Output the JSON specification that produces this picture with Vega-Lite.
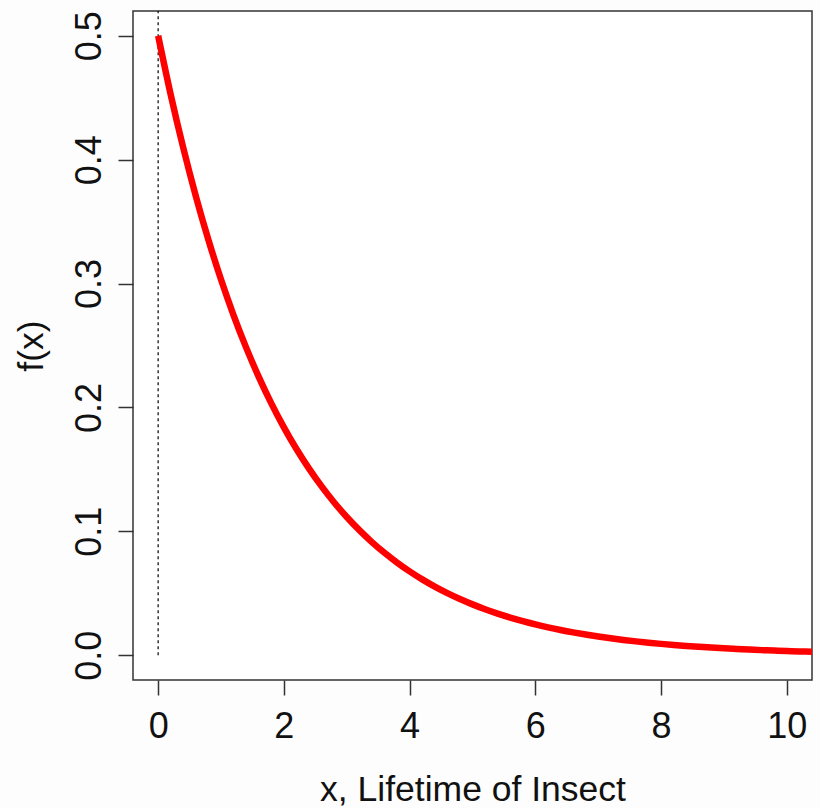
{
  "$schema": "https://vega.github.io/schema/vega-lite/v6.json",
  "autosize": "none",
  "width": 679,
  "height": 669,
  "padding": {"left": 133, "top": 11, "right": 8, "bottom": 128},
  "background": "#fdfdfd",
  "config": {
    "view": {"stroke": "#333333", "strokeWidth": 1.5, "fill": "white"},
    "axis": {
      "domain": false,
      "grid": false,
      "tickColor": "#333333",
      "tickSize": 15,
      "tickWidth": 1.5,
      "labelFont": "Liberation Sans",
      "labelFontSize": 36,
      "labelColor": "#111111",
      "titleFont": "Liberation Sans",
      "titleFontSize": 35.5,
      "titleFontWeight": "normal",
      "titleColor": "#111111"
    }
  },
  "layer": [
    {
      "data": {"values": [{"x": 0, "y": 0, "y2": 0.52}]},
      "mark": {"type": "rule", "color": "black", "strokeWidth": 1.2, "strokeDash": [3, 3]},
      "encoding": {
        "x": {"field": "x", "type": "quantitative"},
        "y": {"field": "y", "type": "quantitative"},
        "y2": {"field": "y2"}
      }
    },
    {
      "data": {"values": [
        {"x": 0, "y": 0.5}, {"x": 0.2, "y": 0.452419}, {"x": 0.4, "y": 0.409365}, {"x": 0.6, "y": 0.370409},
        {"x": 0.8, "y": 0.33516}, {"x": 1.0, "y": 0.303265}, {"x": 1.2, "y": 0.274406}, {"x": 1.4, "y": 0.248293},
        {"x": 1.6, "y": 0.224664}, {"x": 1.8, "y": 0.203285}, {"x": 2.0, "y": 0.18394}, {"x": 2.2, "y": 0.166436},
        {"x": 2.4, "y": 0.150597}, {"x": 2.6, "y": 0.136266}, {"x": 2.8, "y": 0.123298}, {"x": 3.0, "y": 0.111565},
        {"x": 3.2, "y": 0.100948}, {"x": 3.4, "y": 0.091342}, {"x": 3.6, "y": 0.082649}, {"x": 3.8, "y": 0.074784},
        {"x": 4.0, "y": 0.067668}, {"x": 4.2, "y": 0.061228}, {"x": 4.4, "y": 0.055401}, {"x": 4.6, "y": 0.050129},
        {"x": 4.8, "y": 0.045359}, {"x": 5.0, "y": 0.041042}, {"x": 5.2, "y": 0.037137}, {"x": 5.4, "y": 0.033603},
        {"x": 5.6, "y": 0.030405}, {"x": 5.8, "y": 0.027512}, {"x": 6.0, "y": 0.024894}, {"x": 6.2, "y": 0.022525},
        {"x": 6.4, "y": 0.020381}, {"x": 6.6, "y": 0.018442}, {"x": 6.8, "y": 0.016686}, {"x": 7.0, "y": 0.015099},
        {"x": 7.2, "y": 0.013662}, {"x": 7.4, "y": 0.012362}, {"x": 7.6, "y": 0.011185}, {"x": 7.8, "y": 0.010121},
        {"x": 8.0, "y": 0.009158}, {"x": 8.2, "y": 0.008287}, {"x": 8.4, "y": 0.007498}, {"x": 8.6, "y": 0.006784},
        {"x": 8.8, "y": 0.006139}, {"x": 9.0, "y": 0.005554}, {"x": 9.2, "y": 0.005026}, {"x": 9.4, "y": 0.004548},
        {"x": 9.6, "y": 0.004115}, {"x": 9.8, "y": 0.003723}, {"x": 10.0, "y": 0.003369}, {"x": 10.2, "y": 0.003048},
        {"x": 10.4, "y": 0.002758}
      ]},
      "mark": {"type": "line", "color": "#ff0000", "strokeWidth": 6.5, "clip": true, "interpolate": "monotone"},
      "encoding": {
        "x": {
          "field": "x", "type": "quantitative",
          "scale": {"domain": [-0.4, 10.4], "nice": false, "zero": false},
          "axis": {"values": [0, 2, 4, 6, 8, 10], "format": "d", "labelPadding": 14, "title": "x, Lifetime of Insect", "titlePadding": 28}
        },
        "y": {
          "field": "y", "type": "quantitative",
          "scale": {"domain": [-0.02, 0.52], "nice": false, "zero": false},
          "axis": {"values": [0, 0.1, 0.2, 0.3, 0.4, 0.5], "format": ".1f", "labelAngle": 270, "labelAlign": "center", "labelBaseline": "bottom", "labelPadding": 10, "title": "f(x)", "titlePadding": 22}
        }
      }
    }
  ]
}
